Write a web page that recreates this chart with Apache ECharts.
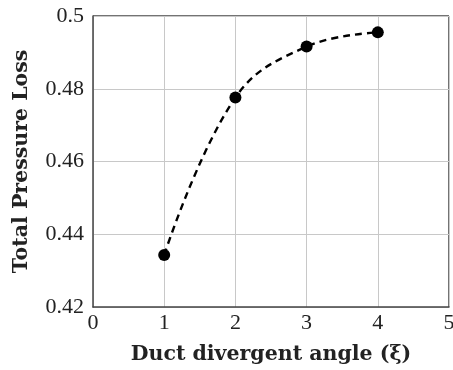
<!DOCTYPE html>
<html>
<head>
<meta charset="utf-8">
<script src="https://cdn.jsdelivr.net/npm/echarts@6/dist/echarts.min.js"></script>
<style>
html,body{margin:0;padding:0;background:#fff;}
#c{width:453px;height:370px;}
</style>
</head>
<body>
<div id="c"></div>
<script>
var angles = [1, 2, 3, 4];
var pressureLoss = [0.4343, 0.4776, 0.4916, 0.4955];
var xTicks = [0, 1, 2, 3, 4, 5];
var yTicks = [0.42, 0.44, 0.46, 0.48, 0.5];

var chart = echarts.init(document.getElementById('c'));
var tickFont = {fontFamily: 'Liberation Serif', fontSize: 22, color: '#222'};
var titleFont = {fontFamily: 'DejaVu Serif', fontWeight: 'bold', fontSize: 20.5, color: '#222'};
chart.setOption({
  animation: false,
  grid: {left: 93, right: 4, top: 16, bottom: 63, containLabel: false, outerBoundsMode: 'none'},
  xAxis: {
    type: 'value', min: 0, max: 5, interval: 1,
    name: 'Duct divergent angle (ξ)', nameLocation: 'middle', nameGap: 37,
    nameTextStyle: titleFont,
    axisLine: {show: true, lineStyle: {color: '#444', width: 1.5}},
    axisTick: {show: false},
    axisLabel: Object.assign({margin: 5, formatter: function(v){return String(v);}}, tickFont),
    splitLine: {show: true, lineStyle: {color: '#c8c8c8', width: 1}}
  },
  yAxis: {
    type: 'value', min: 0.42, max: 0.5, interval: 0.02,
    name: 'Total Pressure Loss', nameLocation: 'middle', nameGap: 61,
    nameTextStyle: titleFont,
    axisLine: {show: true, lineStyle: {color: '#444', width: 1.5}},
    axisTick: {show: false},
    axisLabel: Object.assign({margin: 9, formatter: function(v){return String(+v.toFixed(2));}}, tickFont),
    splitLine: {show: true, lineStyle: {color: '#c8c8c8', width: 1}}
  },
  series: [{
    type: 'line',
    data: angles.map(function(a, i){return [a, pressureLoss[i]];}),
    smooth: 0.4,
    symbol: 'circle', symbolSize: 12,
    itemStyle: {color: '#000'},
    lineStyle: {color: '#000', width: 2.4, type: [7, 5]}
  }],
  graphic: [
    {type: 'line', shape: {x1: 93, y1: 16, x2: 449, y2: 16}, style: {stroke: '#444', lineWidth: 1.5}},
    {type: 'line', shape: {x1: 449, y1: 16, x2: 449, y2: 307}, style: {stroke: '#444', lineWidth: 1.5}}
  ]
});
</script>
</body>
</html>
